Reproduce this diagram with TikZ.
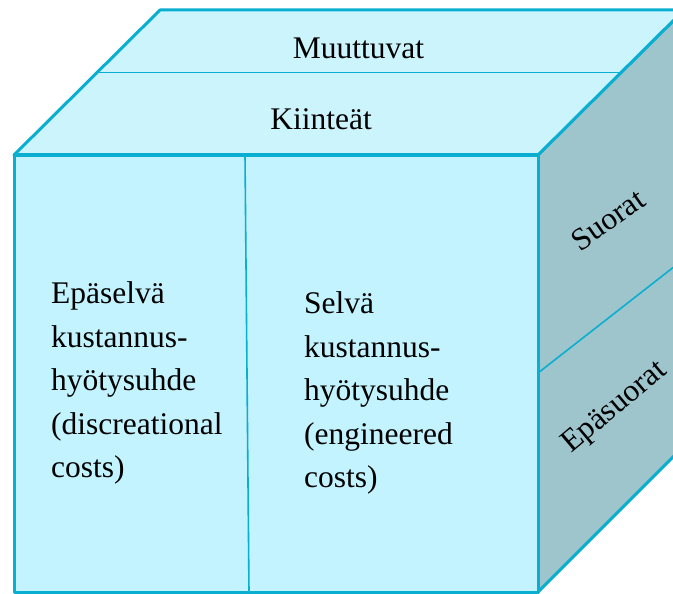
\documentclass[tikz,border=0pt]{standalone}
\usepackage{fontspec}
\setmainfont{Liberation Serif}
\definecolor{edgecyan}{RGB}{10,174,208}
\definecolor{frontfill}{RGB}{194,243,254}
\definecolor{topfill}{RGB}{204,244,253}
\definecolor{sidefill}{RGB}{158,196,204}
\begin{document}
\begin{tikzpicture}[x=1pt,y=-1pt,
  facebox/.style={draw=edgecyan,line width=3pt,line join=round},
  divider/.style={draw=edgecyan,line width=1.6pt},
  lbl/.style={font=\fontsize{31.5}{43.5}\selectfont,inner sep=0pt,text=black}]
\useasboundingbox (0,0) rectangle (673,594);
\clip (0,0) rectangle (673,594);
% cube corners
\coordinate (ftl) at (14,155);
\coordinate (ftr) at (538,155);
\coordinate (fbl) at (14,592);
\coordinate (fbr) at (538,592);
\coordinate (btl) at (160,10);
\coordinate (btr) at (684,10);
\coordinate (bbr) at (684,446);
% faces
\path[facebox,fill=sidefill] (ftr) -- (btr) -- (bbr) -- (fbr) -- cycle;
\path[facebox,fill=topfill] (ftl) -- (btl) -- (btr) -- (ftr) -- cycle;
% dividers
\coordinate (tdl) at (97,72.5);
\coordinate (tdr) at (621,72.5);
\path[divider] (tdl) -- (tdr);
\coordinate (sdf) at (538,373);
\coordinate (sdb) at (684,259);
\path[divider] (sdf) -- (sdb);
\path[facebox,fill=frontfill] (ftl) -- (ftr) -- (fbr) -- (fbl) -- cycle;
\coordinate (fdt) at (245,155);
\coordinate (fdb) at (249,592);
\path[divider] (fdt) -- (fdb);
% labels
\node[lbl,anchor=base] (muuttuvat) at (358.5,59) {Muuttuvat};
\node[lbl,anchor=base] (kiinteat) at (321,129) {Kiinteät};
\node[lbl,anchor=north west,align=left] (epaselva) at (51,281.5)
  {Epäselvä\\kustannus-\\hyötysuhde\\(discreational\\costs)};
\node[lbl,anchor=north west,align=left] (selva) at (304,291.5)
  {Selvä\\kustannus-\\hyötysuhde\\(engineered\\costs)};
\node[lbl,rotate=35] (suorat) at (608,220) {Suorat};
\node[lbl,rotate=40] (epasuorat) at (615,408) {Epäsuorat};
\end{tikzpicture}
\end{document}
